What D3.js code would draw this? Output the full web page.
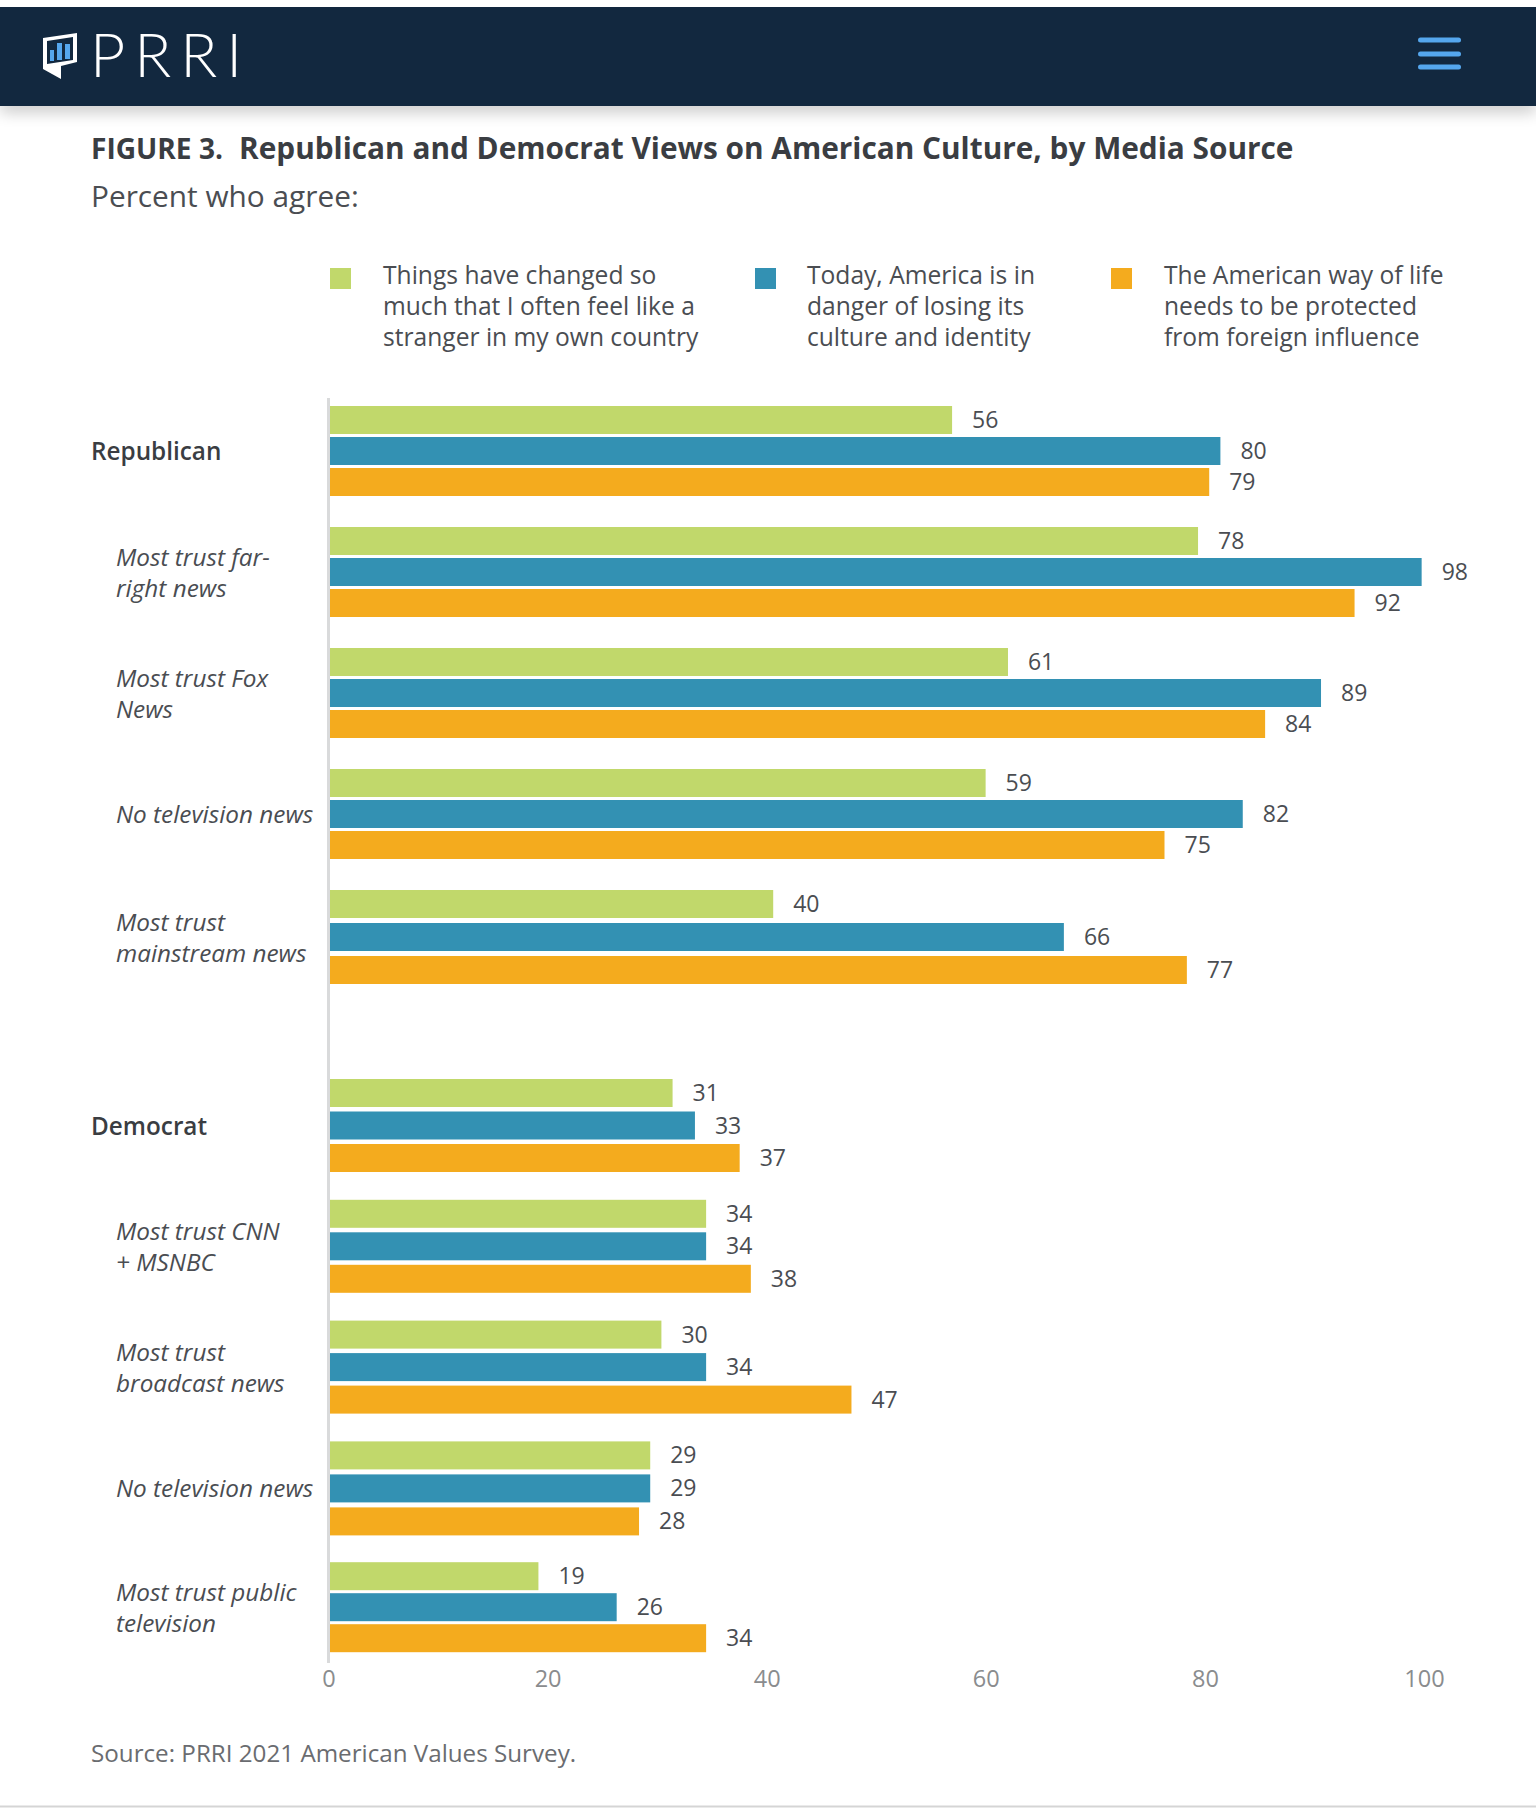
<!DOCTYPE html>
<html>
<head>
<meta charset="utf-8">
<script src="https://cdnjs.cloudflare.com/ajax/libs/d3/7.8.5/d3.min.js"></script>
<style>
  html, body { margin: 0; padding: 0; background: #fff; }
  svg { display: block; }
  text { font-family: "Open Sans", sans-serif; }
</style>
</head>
<body>
<div id="container"></div>
<script>
let w = 1536;
let h = 1808;

// data
let seriesNames = ["stranger", "danger", "foreign"];
let seriesColors = ["#c1d86b", "#3391b3", "#f4ab1e"];
let legendLabels = [
  ["Things have changed so", "much that I often feel like a", "stranger in my own country"],
  ["Today, America is in", "danger of losing its", "culture and identity"],
  ["The American way of life", "needs to be protected", "from foreign influence"]
];

let repRows = ["Republican", "Most trust far-right news", "Most trust Fox News", "No television news R", "Most trust mainstream news"];
let repLabels = [["Republican"], ["Most trust far-", "right news"], ["Most trust Fox", "News"], ["No television news"], ["Most trust", "mainstream news"]];
let repStranger = [56, 78, 61, 59, 40];
let repDanger = [80, 98, 89, 82, 66];
let repForeign = [79, 92, 84, 75, 77];

let demRows = ["Democrat", "Most trust CNN + MSNBC", "Most trust broadcast news", "No television news D", "Most trust public television"];
let demLabels = [["Democrat"], ["Most trust CNN", "+ MSNBC"], ["Most trust", "broadcast news"], ["No television news"], ["Most trust public", "television"]];
let demStranger = [31, 34, 30, 29, 19];
let demDanger = [33, 34, 34, 29, 26];
let demForeign = [37, 38, 47, 28, 34];

let axisTicks = [0, 20, 40, 60, 80, 100];

let viz = d3.select("#container")
  .append("svg")
    .attr("width", w)
    .attr("height", h)
    .style("background-color", "white")
;

// header bar
let defs = viz.append("defs");
let blur = defs.append("filter").attr("id", "headShadow")
  .attr("x", "-5%").attr("y", "-100%").attr("width", "110%").attr("height", "300%");
blur.append("feGaussianBlur").attr("stdDeviation", 8);

viz.append("rect").attr("x", 0).attr("y", 96).attr("width", w).attr("height", 16)
  .attr("fill", "#000").attr("opacity", 0.22).attr("filter", "url(#headShadow)");
viz.append("rect").attr("x", 0).attr("y", 0).attr("width", w).attr("height", 7).attr("fill", "white");
viz.append("rect").attr("x", 0).attr("y", 7).attr("width", w).attr("height", 99).attr("fill", "#12283f");

// logo
viz.append("path")
  .attr("d", "M43 38 L77 33 L77 62 L61 66 L61 79 L43 69 Z M47 41 L47 64 L73 60 L73 37 Z")
  .attr("fill", "white").attr("fill-rule", "evenodd");
viz.append("rect").attr("x", 50).attr("y", 50).attr("width", 4).attr("height", 11).attr("fill", "#55a7ee");
viz.append("rect").attr("x", 57).attr("y", 43).attr("width", 5).attr("height", 17).attr("fill", "#55a7ee");
viz.append("rect").attr("x", 65).attr("y", 44).attr("width", 5).attr("height", 15).attr("fill", "#55a7ee");
viz.append("text").text("PRRI")
  .attr("x", 90).attr("y", 77)
  .attr("fill", "white")
  .style("font-family", "Lato")
  .style("font-weight", 300)
  .style("font-size", "61px")
  .style("letter-spacing", "9px");

// menu icon
[40, 54, 67].forEach(function(y){
  viz.append("rect").attr("x", 1418).attr("y", y - 2.5).attr("width", 43).attr("height", 5)
    .attr("rx", 2.5).attr("fill", "#55a7ee");
});

// titles
viz.append("text").text("FIGURE 3.")
  .attr("x", 91).attr("y", 159)
  .attr("fill", "#3a3d42")
  .style("font-weight", 700)
  .style("font-size", "28.1px");
viz.append("text").text("Republican and Democrat Views on American Culture, by Media Source")
  .attr("x", 239).attr("y", 159)
  .attr("fill", "#3a3d42")
  .style("font-weight", 700)
  .style("font-size", "29.8px");
viz.append("text").text("Percent who agree:")
  .attr("x", 91).attr("y", 207)
  .attr("fill", "#4a4d52")
  .style("font-size", "29.8px");

// legend
let legendX = [330, 755, 1111];
let legendTextX = [383, 807, 1164];
let legend = viz.selectAll(".legendgroup").data(legendLabels).enter()
  .append("g")
    .classed("legendgroup", true)
;
legend.append("rect")
  .attr("x", function(d, i){ return legendX[i]; })
  .attr("y", 268)
  .attr("width", 21)
  .attr("height", 21)
  .attr("fill", function(d, i){ return seriesColors[i]; })
;
legend.each(function(d, i){
  d3.select(this).selectAll("text").data(d).enter()
    .append("text")
      .text(function(s){ return s; })
      .attr("x", legendTextX[i])
      .attr("y", function(s, j){ return 284 + j * 31; })
      .attr("fill", "#4a4d52")
      .style("font-size", "24.6px")
  ;
});

// scales. the bars run longer per unit than the printed axis does in the source
let barLeft = 330;
let barScale = d3.scaleLinear().domain([0, 100]).range([326, 1444]);
let tickScale = d3.scaleLinear().domain([0, 100]).range([328.5, 1424]);
let repBand = d3.scaleBand().domain(repRows).range([406, 1011]);
let demBand = d3.scaleBand().domain(demRows).range([1079, 1683]);
let barHeight = 28;
let repSpans = [90, 90, 90, 90, 94];
let demSpans = [93, 93, 93, 94, 90];

function drawGroup(rows, labels, band, spans, s1, s2, s3){
  let rowGroups = viz.selectAll(".none").data(rows).enter()
    .append("g")
      .attr("transform", function(d){ return "translate(0," + band(d) + ")"; })
  ;
  rowGroups.each(function(d, r){
    let g = d3.select(this);
    let vals = [s1[r], s2[r], s3[r]];
    let inner = d3.scalePoint().domain(seriesNames).range([0, spans[r] - barHeight]);

    g.selectAll("rect").data(vals).enter()
      .append("rect")
        .attr("x", barLeft)
        .attr("y", function(v, i){ return inner(seriesNames[i]); })
        .attr("width", function(v){ return barScale(v) - barLeft; })
        .attr("height", barHeight)
        .attr("fill", function(v, i){ return seriesColors[i]; })
    ;
    g.selectAll(".vallabel").data(vals).enter()
      .append("text")
        .classed("vallabel", true)
        .text(function(v){ return v; })
        .attr("x", function(v){ return barScale(v) + 20; })
        .attr("y", function(v, i){ return inner(seriesNames[i]) + barHeight / 2 + 8; })
        .attr("fill", "#4a4d52")
        .style("font-size", "23px")
    ;

    // row label, first row of a group is the party name
    let lines = labels[r];
    let midY = spans[r] / 2 + 1;
    g.selectAll(".rowlabel").data(lines).enter()
      .append("text")
        .classed("rowlabel", true)
        .text(function(s){ return s; })
        .attr("x", r == 0 ? 91 : 116)
        .attr("y", function(s, j){ return midY + 8 + (j - (lines.length - 1) / 2) * 31; })
        .attr("fill", r == 0 ? "#3a3d42" : "#4a4d52")
        .style("font-style", r == 0 ? "normal" : "italic")
        .style("font-weight", r == 0 ? 600 : 400)
        .style("font-size", "24.3px")
    ;
  });
}
drawGroup(repRows, repLabels, repBand, repSpans, repStranger, repDanger, repForeign);
drawGroup(demRows, demLabels, demBand, demSpans, demStranger, demDanger, demForeign);

// vertical axis line
viz.append("line")
  .attr("x1", 328.5).attr("x2", 328.5)
  .attr("y1", 398).attr("y2", 1663)
  .attr("stroke", "#d9dadb")
  .attr("stroke-width", 3);

// bottom axis, labels only
let xAxis = viz.append("g")
  .attr("transform", "translate(0,1666)")
  .call(d3.axisBottom(tickScale).tickValues(axisTicks).tickSize(0).tickPadding(4));
xAxis.select(".domain").remove();
xAxis.selectAll("text")
  .attr("fill", "#8a8c8e")
  .style("font-family", "Open Sans")
  .style("font-size", "23.5px");

// source
viz.append("text").text("Source: PRRI 2021 American Values Survey.")
  .attr("x", 91).attr("y", 1762)
  .attr("fill", "#6a6c70")
  .style("font-size", "24.2px");

// bottom rule
viz.append("line")
  .attr("x1", 0).attr("x2", w)
  .attr("y1", 1806.5).attr("y2", 1806.5)
  .attr("stroke", "#d5d5d5")
  .attr("stroke-width", 2);
</script>
</body>
</html>
